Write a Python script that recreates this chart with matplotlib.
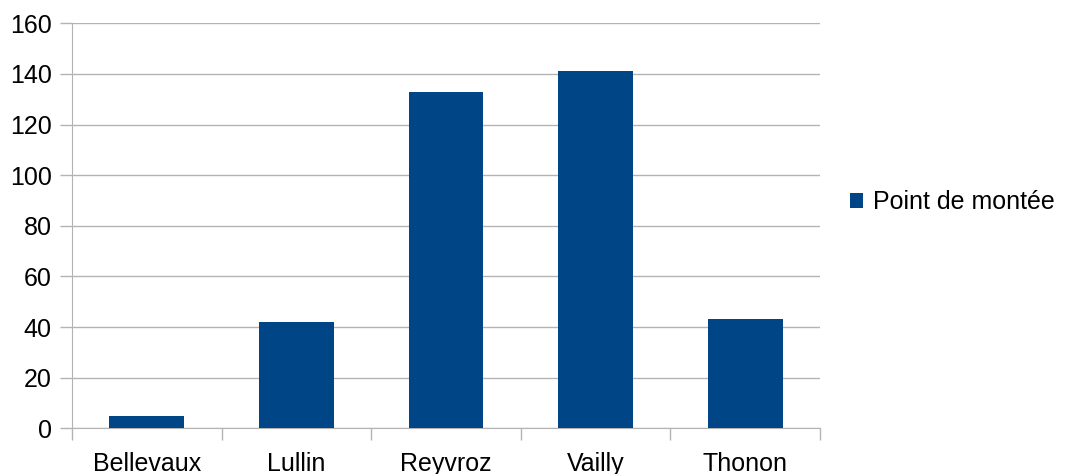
import matplotlib.pyplot as plt
import numpy as np

plt.rcParams['font.family'] = ['Liberation Sans', 'DejaVu Sans']

# donnees
villes = ["Bellevaux", "Lullin", "Reyvroz", "Vailly", "Thonon"]
points = [5, 42, 133, 141, 43]
serie = "Point de montée"

fig = plt.figure(figsize=(10.66, 4.74), dpi=100)
ax = fig.add_axes([72/1066, 1-428.3/474, 748/1066, 405/474])

x = np.arange(len(villes))
ax.bar(x, points, width=0.5, color="#004586", label=serie, zorder=3)

ax.set_xlim(-0.5, len(villes)-0.5)
ax.set_ylim(0, 160)
ax.set_yticks(range(0, 161, 20))
ax.yaxis.grid(True, color="#b3b3b3", lw=1)
ax.set_axisbelow(True)

# ticks de categories aux bords
ax.set_xticks(np.arange(-0.5, len(villes)), minor=False)
ax.set_xticklabels([])
ax.set_xticks(x, minor=True)
ax.set_xticklabels(villes, minor=True)
ax.tick_params(axis="x", which="major", length=8.5, color="#b3b3b3", width=1)
ax.tick_params(axis="x", which="minor", length=0, pad=17, labelsize=18)
ax.tick_params(axis="y", length=8.5, color="#b3b3b3", width=1, labelsize=18, pad=6)

for s in ["top", "right"]:
    ax.spines[s].set_visible(False)
for s in ["left", "bottom"]:
    ax.spines[s].set_color("#b3b3b3")

fig.legend(loc="center left", bbox_to_anchor=(827/1066, 1-202/474), frameon=False,
           fontsize=18, handlelength=0.55, handleheight=0.55, handletextpad=0.4)

fig.savefig("out.png", dpi=100)
